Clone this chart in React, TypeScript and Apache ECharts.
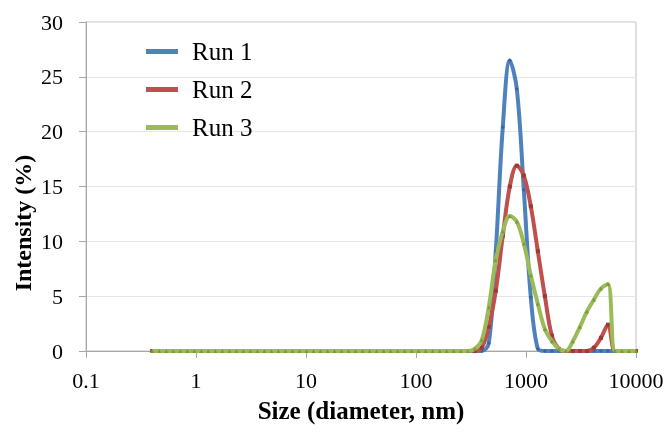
import React, { useEffect, useRef } from "react";
import * as echarts from "echarts";

// Size classes (nm)
const sizes: number[] = [
  0.4, 0.4632, 0.5365, 0.6213, 0.7195, 0.8332, 0.9649, 1.117, 1.294, 1.499,
  1.736, 2.01, 2.328, 2.696, 3.122, 3.615, 4.187, 4.849, 5.615, 6.503,
  7.531, 8.721, 10.1, 11.7, 13.54, 15.69, 18.17, 21.04, 24.36, 28.21,
  32.67, 37.84, 43.82, 50.75, 58.77, 68.06, 78.82, 91.28, 105.7, 122.4,
  141.8, 164.2, 190.1, 220.2, 255.0, 295.3, 342.0, 396.1, 458.7, 531.2,
  615.1, 712.4, 825.0, 955.4, 1106, 1281, 1484, 1718, 1990, 2305,
  2669, 3091, 3580, 4145, 4801, 5560, 6439, 7456, 8635, 10000,
];

// Intensity (%) per size class
const run1: number[] = [
  0, 0, 0, 0, 0, 0, 0, 0, 0, 0,
  0, 0, 0, 0, 0, 0, 0, 0, 0, 0,
  0, 0, 0, 0, 0, 0, 0, 0, 0, 0,
  0, 0, 0, 0, 0, 0, 0, 0, 0, 0,
  0, 0, 0, 0, 0, 0, 0, 0, 0.7, 9.1,
  20.4, 26.5, 23.9, 14.7, 4.9, 0.2, 0, 0, 0, 0,
  0, 0, 0, 0, 0, 0, 0, 0, 0, 0,
];
const run2: number[] = [
  0, 0, 0, 0, 0, 0, 0, 0, 0, 0,
  0, 0, 0, 0, 0, 0, 0, 0, 0, 0,
  0, 0, 0, 0, 0, 0, 0, 0, 0, 0,
  0, 0, 0, 0, 0, 0, 0, 0, 0, 0,
  0, 0, 0, 0, 0, 0, 0, 0.3, 2.2, 5.5,
  10.5, 15.0, 16.9, 16.0, 13.2, 9.1, 5.0, 1.4, 0.2, 0,
  0, 0, 0, 0.3, 1.2, 2.4, 0, 0, 0, 0,
];
const run3: number[] = [
  0, 0, 0, 0, 0, 0, 0, 0, 0, 0,
  0, 0, 0, 0, 0, 0, 0, 0, 0, 0,
  0, 0, 0, 0, 0, 0, 0, 0, 0, 0,
  0, 0, 0, 0, 0, 0, 0, 0, 0, 0,
  0, 0, 0, 0, 0, 0, 0.2, 1.0, 4.0, 8.3,
  10.9, 12.3, 11.8, 9.8, 6.9, 4.3, 2.0, 0.9, 0.2, 0,
  0.9, 2.2, 3.6, 4.7, 5.7, 6.1, 0, 0, 0, 0,
];

const seriesNames = ["Run 1", "Run 2", "Run 3"];
const lineColors = ["#4F81BD", "#C0504D", "#9BBB59"];
const markerColors = ["#3A6595", "#9A3A37", "#7A9A40"];
const markerShapes = ["diamond", "rect", "triangle"];
const yTicks = { min: 0, max: 30, interval: 5 };
const xRange = { min: 0.1, max: 10000 };

const FONT = "Liberation Serif";

export default function App() {
  const ref = useRef<HTMLDivElement>(null);
  useEffect(() => {
    if (!ref.current) return;
    const chart = echarts.init(ref.current, undefined, { renderer: "svg" });
    const runs = [run1, run2, run3];
    chart.setOption({
      animation: false,
      grid: {
        left: 86,
        right: 32,
        top: 22,
        bottom: 83,
        show: true,
        borderColor: "#bfbfbf",
        borderWidth: 1,
      },
      legend: {
        orient: "vertical",
        left: 141,
        top: 34,
        itemWidth: 32,
        itemHeight: 5,
        itemGap: 13,
        icon: "rect",
        data: seriesNames.map((n, i) => ({
          name: n,
          itemStyle: { color: lineColors[i] },
        })),
        textStyle: {
          fontFamily: FONT,
          fontSize: 25,
          color: "#000",
          padding: [0, 0, 0, 9],
        },
      },
      xAxis: {
        type: "log",
        logBase: 10,
        min: xRange.min,
        max: xRange.max,
        name: "Size (diameter, nm)",
        nameLocation: "middle",
        nameGap: 47,
        nameTextStyle: {
          fontFamily: FONT,
          fontSize: 25,
          fontWeight: "bold",
          color: "#000",
        },
        axisLine: { lineStyle: { color: "#a6a6a6", width: 1 } },
        axisTick: { show: true, inside: false, length: 7, lineStyle: { color: "#a6a6a6" } },
        axisLabel: {
          fontFamily: FONT,
          fontSize: 22,
          color: "#000",
          margin: 18,
          formatter: (v: number) => String(+Number(v).toPrecision(6)),
        },
        splitLine: { show: false },
        minorTick: { show: false },
      },
      yAxis: {
        type: "value",
        min: yTicks.min,
        max: yTicks.max,
        interval: yTicks.interval,
        axisLine: { show: true, lineStyle: { color: "#a6a6a6", width: 1 } },
        axisTick: { show: true, inside: false, length: 7, lineStyle: { color: "#a6a6a6" } },
        axisLabel: {
          fontFamily: FONT,
          fontSize: 22,
          color: "#000",
          margin: 23,
        },
        splitLine: { show: true, lineStyle: { color: "#e6e6e6", width: 1 } },
      },
      graphic: [
        {
          type: "text",
          x: 23,
          y: 223,
          rotation: Math.PI / 2,
          style: {
            text: "Intensity (%)",
            fontFamily: FONT,
            fontSize: 24,
            fontWeight: "bold",
            fill: "#000",
            align: "center",
            verticalAlign: "middle",
          },
        },
      ],
      series: runs.map((vals, i) => ({
        name: seriesNames[i],
        type: "line",
        smooth: 0.35,
        data: sizes.map((s, k) => [s, vals[k]]),
        showSymbol: true,
        symbol: markerShapes[i],
        symbolSize: 4,
        lineStyle: { color: lineColors[i], width: 4 },
        itemStyle: { color: markerColors[i], borderWidth: 0 },
        z: 2 + i,
      })),
    });
    return () => chart.dispose();
  }, []);
  return (
    <div
      ref={ref}
      style={{ position: "fixed", left: 0, top: 0, width: 668, height: 434 }}
    />
  );
}
